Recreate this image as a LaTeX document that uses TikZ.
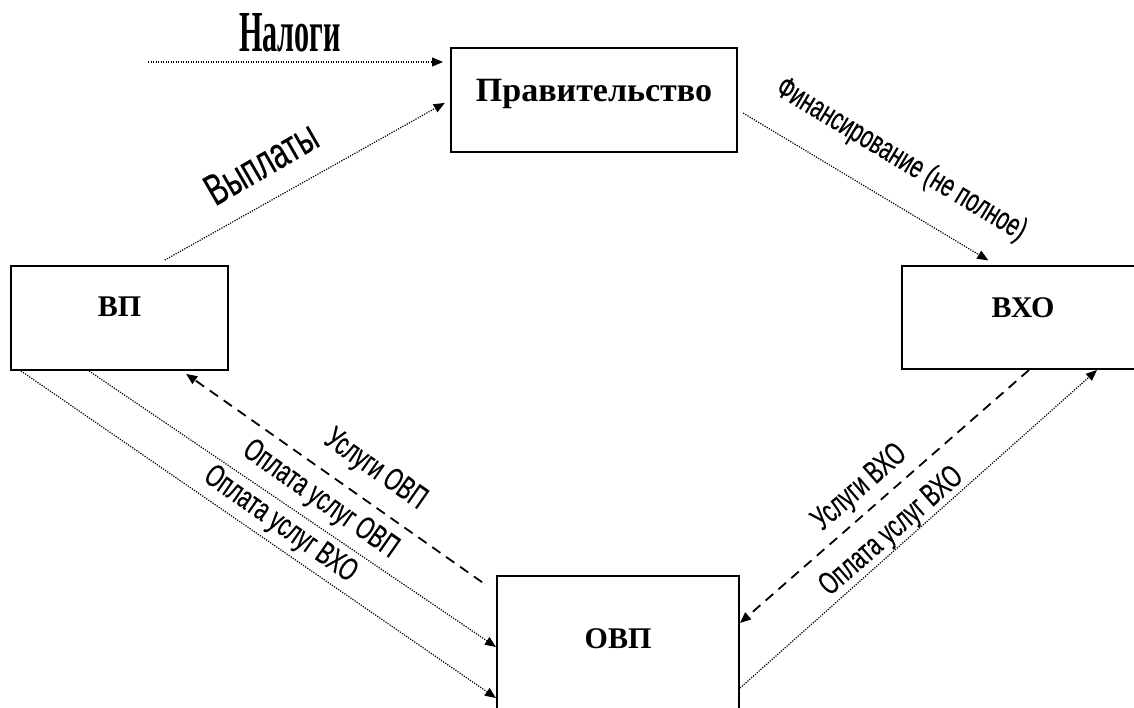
\documentclass[tikz,border=0pt]{standalone}
\usepackage{fontspec}
\setmainfont{Liberation Serif}
\newfontfamily\narrowsans[FakeStretch=0.66, FakeBold=0.3]{Liberation Sans}
\newfontfamily\narrowserif[FakeStretch=0.52]{Liberation Serif}
\usetikzlibrary{arrows.meta}

\begin{document}
\begin{tikzpicture}[x=1pt, y=-1pt,
    box/.style={draw, line width=2pt, inner sep=0pt},
    boxtext/.style={font=\fontsize{30}{34}\selectfont\bfseries, inner sep=0pt},
    flow/.style={line width=1.2pt, dash pattern=on 1.2pt off 1.3pt,
        -{Triangle[length=11pt,width=9pt]}},
    serv/.style={line width=1.8pt, dash pattern=on 10pt off 7pt,
        -{Triangle[length=11pt,width=9pt]}},
    lbl/.style={font=\narrowsans\fontsize{32}{36}\selectfont, inner sep=0pt}]
    \useasboundingbox (0,0) rectangle (1134,708);
    \clip (0,0) rectangle (1134,708);

    % boxes
    \node[box, minimum width=286, minimum height=104] (gov) at (594,100) {};
    \node[box, minimum width=217, minimum height=104] (vp)  at (119.5,318) {};
    \node[box, minimum width=242, minimum height=103] (vho) at (1023,317.5) {};
    \node[box, minimum width=242, minimum height=154] (ovp) at (618,653) {};
    \node[boxtext, font=\fontsize{34}{38}\selectfont\bfseries] (govname) at ([yshift=6pt]gov.center) {Правительство};
    \node[boxtext] (vpname)  at ([yshift=11pt]vp.center)  {ВП};
    \node[boxtext] (vhoname) at ([yshift=10pt]vho.center) {ВХО};
    \node[boxtext] (ovpname) at ([yshift=14pt]ovp.center) {ОВП};

    % money and services
    \coordinate (taxin) at (148,62);
    \draw[flow, shorten >=7pt] (taxin) -- ([yshift=38pt]gov.west);
    \draw[flow, shorten <=10pt, shorten >=6pt] ([xshift=146pt]vp.north west) -- (gov.west);
    \draw[flow, shorten <=6pt, shorten >=9pt] ([yshift=-10pt]gov.east) -- ([xshift=95pt]vho.north west);
    \draw[serv, shorten <=17pt, shorten >=5pt] ([yshift=-17pt]ovp.north west) -- ([xshift=172pt]vp.south west);
    \draw[flow] ([xshift=79pt]vp.south west) -- ([yshift=6pt]ovp.west);
    \draw[flow] ([xshift=11pt]vp.south west) -- ([yshift=-45pt]ovp.west);
    \draw[serv] ([xshift=128pt]vho.south west) -- ([yshift=30pt]ovp.east);
    \draw[flow] ([yshift=-35pt]ovp.east) -- ([xshift=196pt]vho.south west);

    % labels
    \node[font=\narrowserif\fontsize{58}{60}\selectfont\bfseries, inner sep=0pt] (taxes) at (290,33) {Налоги};
    \node[lbl, font=\narrowsans\fontsize{44}{46}\selectfont, rotate=30] (pay) at (261,163) {Выплаты};
    \node[lbl, rotate=-31] (fin) at (901,160) {Финансирование (не полное)};
    \node[lbl, rotate=-35] (servovp) at (375,470) {Услуги ОВП};
    \node[lbl, rotate=-35] (payovp) at (320,500) {Оплата услуг ОВП};
    \node[lbl, rotate=-35] (payvhoa) at (280,525) {Оплата услуг ВХО};
    \node[lbl, rotate=41] (servvho) at (860,488) {Услуги ВХО};
    \node[lbl, rotate=41] (payvhob) at (892,532) {Оплата услуг ВХО};
\end{tikzpicture}
\end{document}
